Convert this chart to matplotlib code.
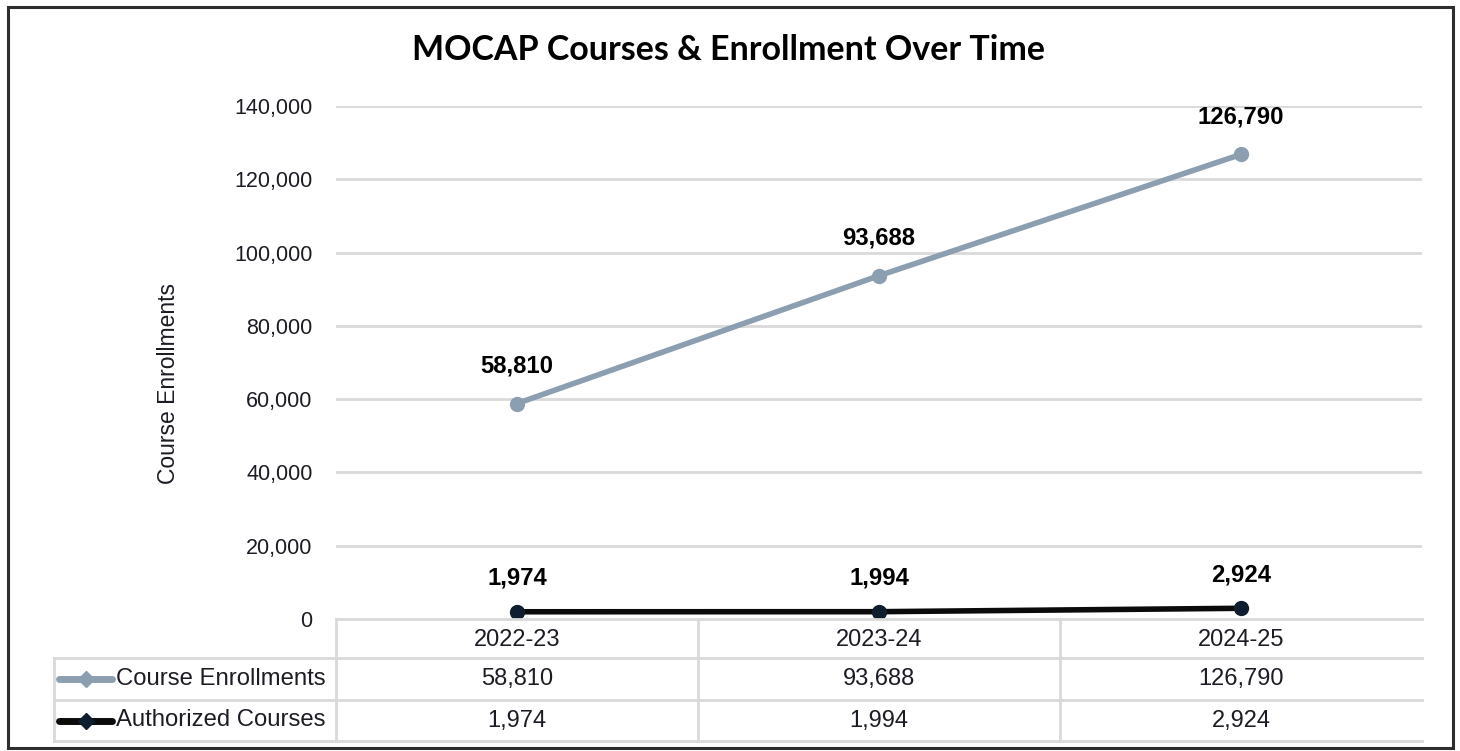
import matplotlib
matplotlib.use("Agg")
import matplotlib.pyplot as plt
from matplotlib.lines import Line2D
from matplotlib.patches import Rectangle

# ---- data ----
years = ["2022-23", "2023-24", "2024-25"]
course_enrollments = [58810, 93688, 126790]
authorized_courses = [1974, 1994, 2924]
series_names = ["Course Enrollments", "Authorized Courses"]
y_ticks = [0, 20000, 40000, 60000, 80000, 100000, 120000, 140000]
title = "MOCAP Courses & Enrollment Over Time"
y_label = "Course Enrollments"

W, H = 1460, 751
fig = plt.figure(figsize=(W / 100, H / 100), dpi=100)
fig.patch.set_facecolor("white")

def fx(px):
    return px / W

def fy(py):
    return 1 - py / H

GREY = "#8c9fb1"
BLACK = "#0b0b0b"
MARK_BLACK = "#0f1e2e"
GRID = "#d9d9d9"
TXT = "#1c1c24"
FONT = "Liberation Sans"

# axes
ax_l, ax_r, ax_t, ax_b = 336, 1422, 106, 619
ax = fig.add_axes([fx(ax_l), fy(ax_b), fx(ax_r) - fx(ax_l), fy(ax_t) - fy(ax_b)])
ax.set_xlim(-0.5, len(years) - 0.5)
ax.set_ylim(0, 140000)
for s in ax.spines.values():
    s.set_visible(False)
ax.set_xticks([])
ax.set_yticks(y_ticks)
ax.set_yticklabels([f"{v:,}" for v in y_ticks], fontsize=15.5, family=FONT, color=TXT)
ax.tick_params(axis="y", length=0, pad=17)
for v in y_ticks[1:]:
    ax.axhline(v, color=GRID, lw=2, zorder=0)
ax.set_facecolor("none")

x = list(range(len(years)))
ax.plot(x, course_enrollments, color=GREY, lw=4, marker="o", ms=10,
        markerfacecolor=GREY, markeredgecolor=GREY, zorder=3, clip_on=False)
ax.plot(x, authorized_courses, color=BLACK, lw=4, marker="o", ms=10,
        markerfacecolor=MARK_BLACK, markeredgecolor=MARK_BLACK, zorder=4, clip_on=False)

for xi, v in zip(x, course_enrollments):
    ax.annotate(f"{v:,}", (xi, v), xytext=(0, 27), textcoords="offset points",
                ha="center", va="center", fontsize=17.2, fontweight="bold",
                family=FONT, color="black")
for xi, v in zip(x, authorized_courses):
    ax.annotate(f"{v:,}", (xi, v), xytext=(0, 24), textcoords="offset points",
                ha="center", va="center", fontsize=17.2, fontweight="bold",
                family=FONT, color="black")

ax.set_ylabel(y_label, fontsize=16.5, family=FONT, color=TXT, labelpad=0)
ax.yaxis.set_label_coords((180 - ax_l) / (ax_r - ax_l), (ax_b - 384) / (ax_b - ax_t))

# title
fig.text(fx(729), fy(50), title, ha="center", va="center", fontsize=24.5,
         fontweight="bold", family="Lato", color="black")

# ---- data table ----
def hline(x0, x1, y, **kw):
    fig.add_artist(Line2D([fx(x0), fx(x1)], [fy(y), fy(y)], color=GRID, lw=2, **kw))

def vline(xp, y0, y1):
    fig.add_artist(Line2D([fx(xp), fx(xp)], [fy(y0), fy(y1)], color=GRID, lw=2))

row_y = [619, 658, 700, 741]
col_x = [ax_l + i * (ax_r - ax_l) / len(years) for i in range(len(years) + 1)]
hline(ax_l, ax_r, row_y[0])
for yy in row_y[1:]:
    hline(54, ax_r, yy)
vline(54, row_y[1], row_y[3])
for cx in col_x[:-1]:
    vline(cx, row_y[0], row_y[3])

centers = [(col_x[i] + col_x[i + 1]) / 2 for i in range(len(years))]
hdr_c = (row_y[0] + row_y[1]) / 2 + 2
for cx, yr in zip(centers, years):
    fig.text(fx(cx), fy(hdr_c), yr, ha="center", va="center", fontsize=17,
             family=FONT, color=TXT)

rows = [course_enrollments, authorized_courses]
colors = [(GREY, GREY), (BLACK, MARK_BLACK)]
for r, (vals, name, (lc, mc)) in enumerate(zip(rows, series_names, colors)):
    cy = (row_y[r + 1] + row_y[r + 2]) / 2
    fig.add_artist(Line2D([fx(59), fx(112)], [fy(cy), fy(cy)], color=lc, lw=5,
                          solid_capstyle="round"))
    fig.add_artist(Line2D([fx(86)], [fy(cy)], marker="D", ms=8, color=mc,
                          markeredgecolor=mc, lw=0))
    fig.text(fx(116), fy(cy), name, ha="left", va="center", fontsize=17.2,
             family=FONT, color=TXT)
    for cx, v in zip(centers, vals):
        fig.text(fx(cx), fy(cy), f"{v:,}", ha="center", va="center", fontsize=17,
                 family=FONT, color=TXT)

# outer border
fig.add_artist(Rectangle((fx(8), fy(748)), fx(1453) - fx(8), fy(7) - fy(748),
                         fill=False, edgecolor="#2e2e2e", lw=2.2))

fig.savefig("out.png", dpi=100, facecolor="white")
